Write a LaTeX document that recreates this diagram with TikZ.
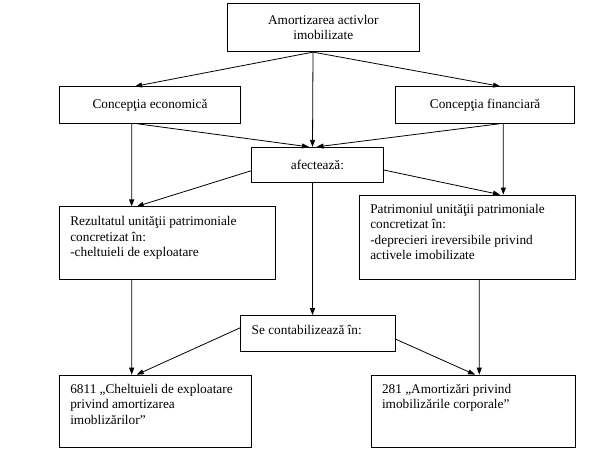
\documentclass[tikz,border=0pt]{standalone}
\usepackage{fontspec}
\setmainfont{Liberation Serif}
\usetikzlibrary{arrows.meta}
\newcommand{\leftbox}[4]{\parbox[c][#2][t]{#1}{\raggedright\leftskip=11pt\rule{0pt}{#3}#4}}

\begin{document}
\begin{tikzpicture}[x=1pt, y=-1pt, >={Triangle[length=7pt,width=5pt]}, line width=0.8pt,
  main/.style = {draw, rectangle, inner sep=0pt, align=center, font=\fontsize{13.3}{15.5}\selectfont},
  side/.style = {draw, rectangle, inner sep=0pt, font=\fontsize{13.3}{15.5}\selectfont}]
\useasboundingbox (0,0) rectangle (612,450);
\node[main, minimum width=192pt, minimum height=48.4pt] (top) at (323.3,27.5) {Amortizarea activlor\\[-1pt]imobilizate};
\node[main, minimum width=181.4pt, minimum height=36.6pt] (eco) at (150,105) {Concepţia economică};
\node[main, minimum width=178.8pt, minimum height=36.6pt] (fin) at (485.1,105) {Concepţia financiară};
\node[main, minimum width=131.6pt, minimum height=35.4pt] (afe) at (317.5,165) {afectează:};
\node[side] (rez) at (167.15,243) {\leftbox{215.7pt}{72.3pt}{19pt}{Rezultatul unităţii patrimoniale\\concretizat în:\\-cheltuieli de exploatare}};
\node[side] (pat) at (467.4,237) {\leftbox{216.2pt}{84pt}{18pt}{Patrimoniul unităţii patrimoniale\\concretizat în:\\-deprecieri ireversibile privind\\activele imobilizate}};
\node[side] (sec) at (318.1,333.25) {\leftbox{154.8pt}{35.5pt}{18.5pt}{Se contabilizează în:}};
\node[side] (c6811) at (155.4,411.2) {\leftbox{192.2pt}{72.3pt}{18pt}{6811 „Cheltuieli de exploatare\\privind amortizarea\\imoblizărilor”}};
\node[side] (c281) at (473.25,411.2) {\leftbox{204.5pt}{72.3pt}{18pt}{281 „Amortizări privind\\imobilizările corporale”}};
\draw[->] ([xshift=-10.3pt]top.south) -- ([xshift=-15pt]eco.north);
\draw[->] ([xshift=-10.3pt]top.south) -- ([xshift=15pt]fin.north);
\draw[->] ([xshift=-10.3pt]top.south) -- ([xshift=-5pt]afe.north);
\draw[->] ([xshift=-13.3pt]eco.south) -- ([xshift=-8.5pt]afe.north);
\draw[->] ([xshift=15pt]fin.south) -- ([xshift=-1pt]afe.north);
\draw[->] ([xshift=-18.3pt]eco.south) -- ([xshift=-35.5pt]rez.north);
\draw[->] ([xshift=18.2pt]fin.south) -- ([xshift=35.9pt]pat.north);
\draw[->] ([yshift=-5.7pt]afe.west) -- ([xshift=-30.5pt]rez.north);
\draw[->] ([yshift=-5pt]afe.east) -- ([xshift=32.6pt]pat.north);
\draw[->] ([xshift=-5pt]afe.south) -- ([xshift=-5.6pt]sec.north);
\draw[->] ([xshift=-35.5pt]rez.south) -- ([xshift=-23.7pt]c6811.north);
\draw[->] ([xshift=11.9pt]pat.south) -- ([xshift=6pt]c281.north);
\draw[->] ([yshift=5.5pt]sec.west) -- ([xshift=-18.7pt]c6811.north);
\draw[->] ([yshift=-6pt]sec.east) -- ([xshift=1.7pt]c281.north);
\end{tikzpicture}
\end{document}
